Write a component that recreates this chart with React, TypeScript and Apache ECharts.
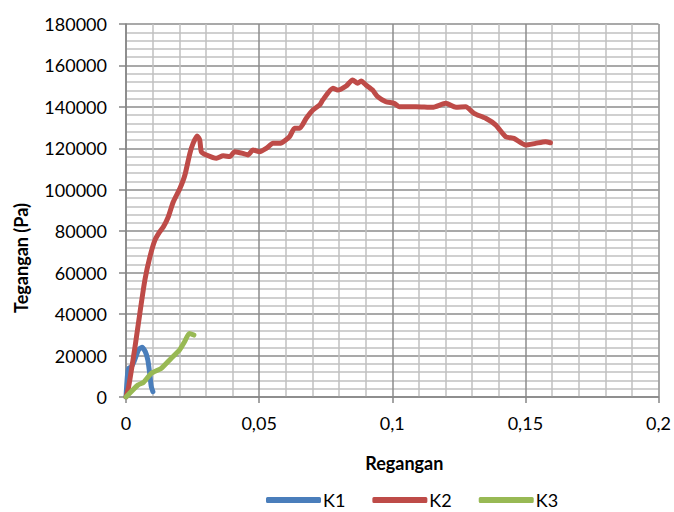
import React, { useEffect, useRef } from "react";
import * as echarts from "echarts";

const xTickLabels = ["0", "0,05", "0,1", "0,15", "0,2"];
const yTickLabels = ["0", "20000", "40000", "60000", "80000", "100000", "120000", "140000", "160000", "180000"];

const seriesNames = ["K1", "K2", "K3"];

const k1Data: [number, number][] = [
  [0, 0], [0.0005, 9800], [0.001, 13800], [0.002, 14600], [0.003, 17000],
  [0.0047, 22700], [0.006, 24000], [0.0072, 22000], [0.0082, 17900],
  [0.0089, 11400], [0.0095, 5000], [0.0101, 2600],
];

const k2Data: [number, number][] = [
  [0, 0], [0.001, 5000], [0.0034, 24300], [0.0052, 40400], [0.0071, 56500],
  [0.009, 67700], [0.0109, 75800], [0.0127, 79800], [0.014, 82000],
  [0.0159, 87000], [0.0177, 94000], [0.0202, 100500], [0.0221, 107000],
  [0.024, 117600], [0.0252, 122400], [0.0267, 126000], [0.0277, 124000],
  [0.0283, 118400], [0.0302, 116800], [0.034, 115200], [0.0365, 116400],
  [0.039, 116000], [0.0408, 118400], [0.0439, 117600], [0.0458, 116800],
  [0.0477, 119200], [0.0502, 118400], [0.0527, 120000], [0.0552, 122400],
  [0.0577, 122400], [0.0614, 125600], [0.0633, 129700], [0.0652, 129700],
  [0.0677, 134500], [0.0702, 138500], [0.0727, 140900], [0.0739, 143300],
  [0.0777, 149000], [0.0795, 148100], [0.0827, 150100], [0.0851, 153000],
  [0.087, 151400], [0.0883, 152500], [0.0901, 150600], [0.0926, 148100],
  [0.0945, 144900], [0.0976, 142500], [0.1007, 141700], [0.1026, 140100],
  [0.1064, 140100], [0.1089, 140100], [0.1151, 139800], [0.1201, 141700],
  [0.1239, 139800], [0.1276, 140100], [0.1307, 136900], [0.1351, 134500],
  [0.1388, 131300], [0.1426, 125600], [0.1457, 124800], [0.1501, 121600],
  [0.1538, 122400], [0.1576, 123200], [0.1594, 122700],
];

const k3Data: [number, number][] = [
  [0, 0], [0.0045, 5800], [0.0065, 7000], [0.0095, 11400], [0.0132, 13800],
  [0.017, 18700], [0.0201, 22700], [0.022, 26700], [0.0238, 30700],
  [0.0255, 29900],
];

const colors = ["#4a7ebb", "#be4b48", "#98b954"];
const FONT = "Lato, 'Open Sans', sans-serif";

export default function App() {
  const ref = useRef<HTMLDivElement>(null);
  useEffect(() => {
    if (!ref.current) return;
    const chart = echarts.init(ref.current, undefined, { renderer: "svg" });
    const dataSets = [k1Data, k2Data, k3Data];
    chart.setOption({
      animation: false,
      color: colors,
      textStyle: { fontFamily: FONT },
      grid: { left: 126, right: 14, top: 24, bottom: 115, containLabel: false },
      xAxis: {
        type: "value",
        min: 0,
        max: 0.2,
        interval: 0.05,
        name: "Regangan",
        nameLocation: "middle",
        nameGap: 57,
        nameTextStyle: { fontFamily: FONT, fontSize: 18, fontWeight: "bold", color: "#000", padding: [0, 0, 0, 24] },
        axisLine: { show: true, lineStyle: { color: "#868686", width: 1.5 } },
        axisTick: { show: true, length: 6, lineStyle: { color: "#868686", width: 1.5 } },
        axisLabel: {
          margin: 17,
          fontSize: 18,
          color: "#000",
          fontFamily: FONT,
          formatter: (v: number) => xTickLabels[Math.round(v / 0.05)] ?? "",
        },
        splitLine: { show: true, lineStyle: { color: "#8c8c8c", width: 1.5 } },
        minorTick: { show: false, splitNumber: 5 },
        minorSplitLine: { show: true, lineStyle: { color: "#c0c0c0", width: 1.5 } },
      },
      yAxis: {
        type: "value",
        min: 0,
        max: 180000,
        interval: 20000,
        axisLine: { show: true, lineStyle: { color: "#868686", width: 1.5 } },
        axisTick: { show: true, length: 7, lineStyle: { color: "#868686", width: 1.5 } },
        axisLabel: {
          margin: 19,
          fontSize: 18,
          color: "#000",
          fontFamily: FONT,
          formatter: (v: number) => yTickLabels[Math.round(v / 20000)] ?? "",
        },
        splitLine: { show: true, lineStyle: { color: "#8c8c8c", width: 1.5 } },
        minorTick: { show: false, splitNumber: 5 },
        minorSplitLine: { show: true, lineStyle: { color: "#c0c0c0", width: 1.5 } },
      },
      legend: {
        show: true,
        left: 261,
        top: 486,
        orient: "horizontal",
        itemWidth: 55,
        itemHeight: 6,
        itemGap: 27,
        icon: "roundRect",
        textStyle: { fontSize: 18, color: "#000", fontFamily: FONT, padding: [0, 0, 0, -3] },
        data: seriesNames,
      },
      graphic: [
        {
          type: "text",
          x: 21,
          y: 258,
          rotation: Math.PI / 2,
          style: {
            text: "Tegangan (Pa)",
            fontSize: 18,
            fontWeight: "bold",
            fontFamily: FONT,
            fill: "#000",
            align: "center",
            verticalAlign: "middle",
          },
        },
      ],
      series: seriesNames.map((name, i) => ({
        name,
        type: "line",
        data: dataSets[i],
        symbol: "none",
        smooth: 0.2,
        lineStyle: { width: 5, color: colors[i], cap: "round", join: "round" },
        itemStyle: { color: colors[i] },
      })),
    });
    return () => chart.dispose();
  }, []);
  return (
    <div
      ref={ref}
      style={{ position: "absolute", left: 0, top: 0, width: 674, height: 512, background: "#fff" }}
    />
  );
}
